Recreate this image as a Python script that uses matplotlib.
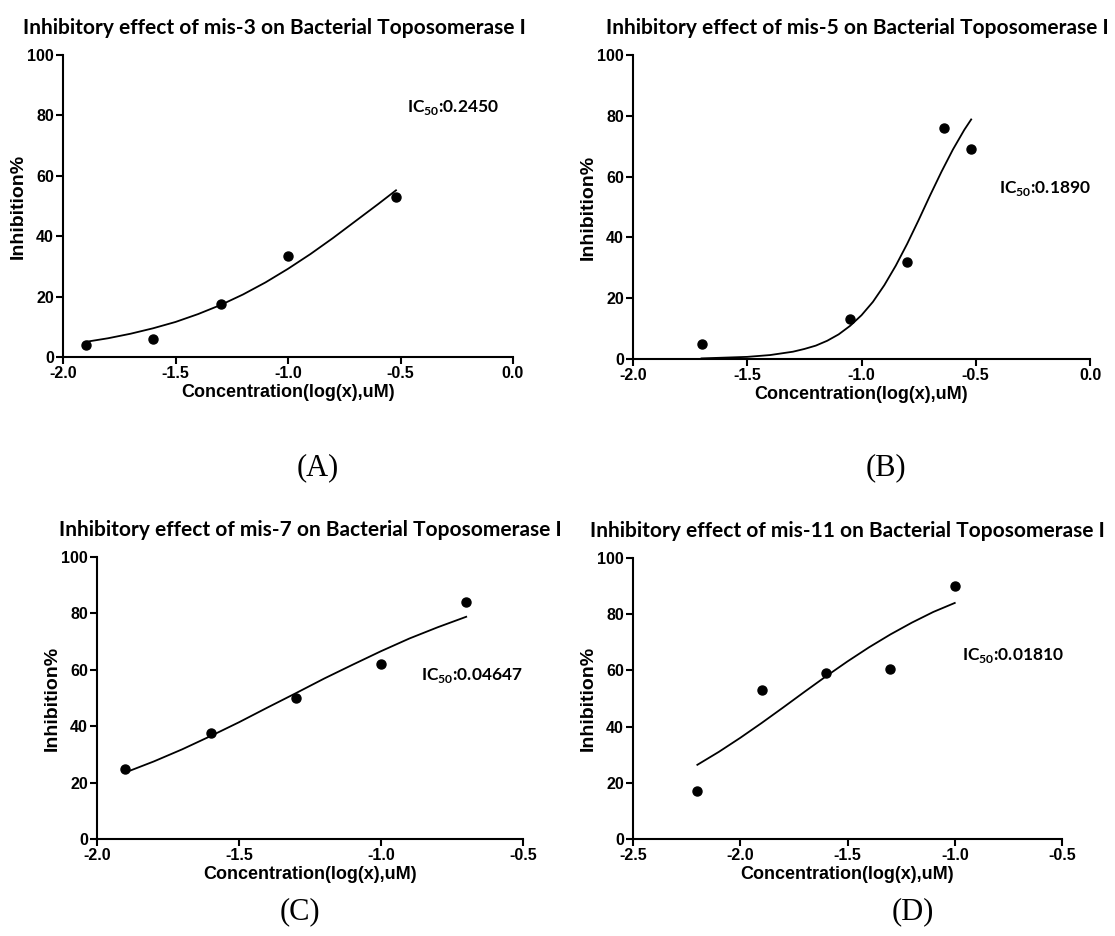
import numpy as np
import matplotlib
matplotlib.use("Agg")
import matplotlib.pyplot as plt

# datos
# (A) mis-3
xA = [-1.9, -1.6, -1.3, -1.0, -0.52]
yA = [4.0, 6.0, 17.5, 33.3, 53.0]
cxA = [-1.9, -1.8, -1.7, -1.6, -1.5, -1.4, -1.3, -1.2, -1.1, -1.0, -0.9, -0.8, -0.7, -0.6, -0.52]
cyA = [5.0, 6.2, 7.7, 9.5, 11.6, 14.2, 17.2, 20.7, 24.7, 29.2, 34.1, 39.4, 45.0, 50.6, 55.2]

# (B) mis-5
xB = [-1.7, -1.05, -0.8, -0.64, -0.52]
yB = [5.0, 13.0, 32.0, 76.0, 69.0]
cxB = [-1.7, -1.5, -1.4, -1.3, -1.25, -1.2, -1.15, -1.1, -1.05, -1.0, -0.95, -0.9, -0.85,
       -0.8, -0.75, -0.7, -0.65, -0.6, -0.55, -0.52]
cyB = [0.2, 0.7, 1.3, 2.4, 3.3, 4.4, 6.0, 8.1, 10.9, 14.4, 18.8, 24.3, 30.7,
       37.9, 45.7, 53.8, 61.6, 68.9, 75.4, 78.8]

# (C) mis-7
xC = [-1.9, -1.6, -1.3, -1.0, -0.7]
yC = [25.0, 37.5, 50.0, 62.0, 84.0]
cxC = [-1.9, -1.8, -1.7, -1.6, -1.5, -1.4, -1.3, -1.2, -1.1, -1.0, -0.9, -0.8, -0.7]
cyC = [23.6, 27.5, 31.8, 36.5, 41.4, 46.6, 51.7, 56.9, 61.8, 66.6, 71.1, 75.1, 78.8]

# (D) mis-11
xD = [-2.2, -1.9, -1.6, -1.3, -1.0]
yD = [17.0, 53.0, 59.0, 60.5, 90.0]
cxD = [-2.2, -2.1, -2.0, -1.9, -1.8, -1.7, -1.6, -1.5, -1.4, -1.3, -1.2, -1.1, -1.0]
cyD = [26.4, 31.0, 36.0, 41.3, 46.8, 52.4, 57.9, 63.2, 68.2, 72.8, 77.0, 80.8, 84.0]

compuestos = ["mis-3", "mis-5", "mis-7", "mis-11"]
ic50 = ["0.2450", "0.1890", "0.04647", "0.01810"]
letras = ["(A)", "(B)", "(C)", "(D)"]
xticksA = [-2.0, -1.5, -1.0, -0.5, 0.0]
xticksC = [-2.0, -1.5, -1.0, -0.5]
xticksD = [-2.5, -2.0, -1.5, -1.0, -0.5]
yticks = [0, 20, 40, 60, 80, 100]

W, H = 1115.0, 936.0
fig = plt.figure(figsize=(11.15, 9.36), dpi=100)

plt.rcParams["mathtext.fontset"] = "custom"
plt.rcParams["mathtext.bf"] = "Lato:bold"
plt.rcParams["mathtext.rm"] = "Lato:bold"

fuente_ejes = dict(family="Liberation Sans", weight="bold", fontsize=11.5)


def caja(x0, y0, x1, y1):
    # pixeles -> fraccion de figura
    return [x0 / W, 1 - y1 / H, (x1 - x0) / W, (y1 - y0) / H]


def panel(rect, px, py, cx, cy, xt, nombre, ic, pos_ic, xtit):
    ax = fig.add_axes(rect)
    ax.plot(cx, cy, color="black", lw=1.3)
    ax.plot(px, py, "o", color="black", ms=6.5)
    ax.set_xlim(xt[0], xt[-1])
    ax.set_ylim(0, 100)
    ax.set_xticks(xt)
    ax.set_yticks(yticks)
    ax.set_xticklabels(["%.1f" % v for v in xt], **fuente_ejes)
    ax.set_yticklabels([str(v) for v in yticks], **fuente_ejes)
    for s in ["top", "right"]:
        ax.spines[s].set_visible(False)
    for s in ["left", "bottom"]:
        ax.spines[s].set_linewidth(1.5)
    ax.tick_params(direction="out", length=5, width=1.5, pad=1.5)
    ax.set_xlabel("Concentration(log(x),uM)", family="Liberation Sans",
                  weight="bold", fontsize=13, labelpad=2)
    ax.set_ylabel("Inhibition%", family="Liberation Sans",
                  weight="bold", fontsize=14, labelpad=0)
    ax.text(pos_ic[0], pos_ic[1], r"IC$_{\mathbf{50}}$:" + ic, transform=ax.transAxes,
            family="Lato", weight="bold", fontsize=12.5, va="center", ha="left")
    ax.set_title("Inhibitory effect of %s on Bacterial Toposomerase I" % nombre,
                 family="Lato", weight="bold", fontsize=15, pad=15, x=xtit)
    return ax


panel(caja(63, 55, 513, 357), xA, yA, cxA, cyA, xticksA, compuestos[0], ic50[0], (0.765, 0.825), 0.47)
panel(caja(633, 55, 1090, 359), xB, yB, cxB, cyB, xticksA, compuestos[1], ic50[1], (0.80, 0.56), 0.49)
panel(caja(97, 557, 523, 839), xC, yC, cxC, cyC, xticksC, compuestos[2], ic50[2], (0.76, 0.58), 0.5)
panel(caja(633, 558, 1062, 839), xD, yD, cxD, cyD, xticksD, compuestos[3], ic50[3], (0.767, 0.652), 0.5)

# letras de los paneles
for txt, (px, py) in zip(letras, [(318, 468), (886, 468), (300, 912), (913, 912)]):
    fig.text(px / W, 1 - py / H, txt, family="Liberation Serif", fontsize=22,
             ha="center", va="center")

fig.savefig("out.png", dpi=100)
